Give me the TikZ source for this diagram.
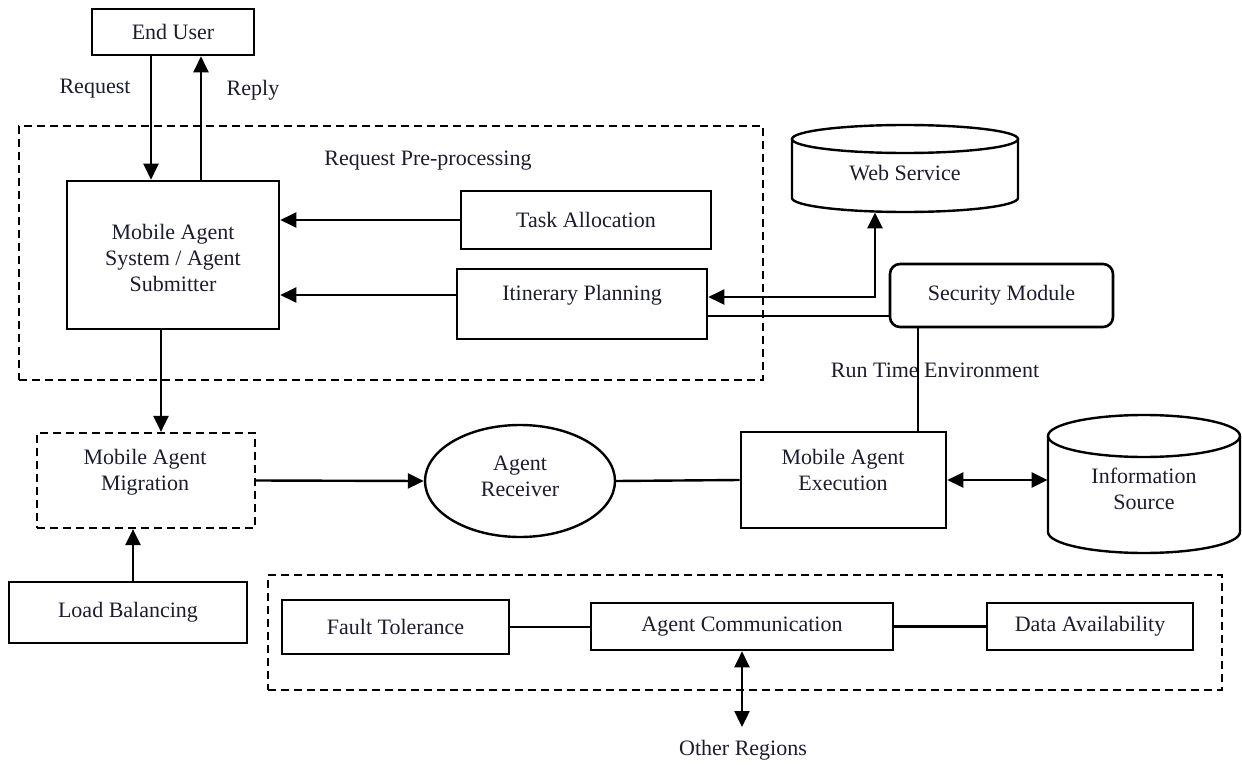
\documentclass[tikz,border=0pt]{standalone}
\usepackage{fontspec}
\setmainfont{Liberation Serif}
\usetikzlibrary{arrows.meta,shapes.geometric}
\definecolor{txt}{RGB}{28,28,48}
\begin{document}
\begin{tikzpicture}[x=0.5pt,y=-0.5pt,
  font=\fontsize{11}{13}\selectfont,
  every node/.style={text=txt},
  box/.style={draw, line width=1.3pt, inner sep=0pt, align=center},
  dbox/.style={draw, line width=1.1pt, dash pattern=on 4pt off 2.5pt, inner sep=0pt},
  lbl/.style={inner sep=0pt, align=center},
  conn/.style={line width=1.2pt},
  arr/.style={conn, -{Triangle[length=8pt,width=7.5pt]}},
  arrb/.style={conn, {Triangle[length=8pt,width=7.5pt]}-{Triangle[length=8pt,width=7.5pt]}},
  cyl/.style={line width=1.2pt}
]
\useasboundingbox (0,0) rectangle (1242,765);

% dashed regions
\node[dbox, minimum width=372pt, minimum height=127pt] (rpp) at (391,253) {};
\node[dbox, minimum width=477pt, minimum height=57.5pt] (oreg) at (745,632.5) {};

% boxes
\node[box, minimum width=81pt, minimum height=23pt] (eu) at (173,32) {End User};
\node[box, minimum width=106pt, minimum height=74pt] (mas) at (173,255) {};
\node[lbl] (mast) at (173,258) {Mobile Agent\\System / Agent\\Submitter};
\node[box, minimum width=125pt, minimum height=29pt] (ta) at (586,220) {Task Allocation};
\node[box, minimum width=125pt, minimum height=35pt] (ip) at (582,304) {};
\node[lbl] (ipt) at (582,295) {Itinerary Planning};
\node[box, rounded corners=5pt, minimum width=111.5pt, minimum height=31.5pt] (sm) at (1001.5,295.5) {Security Module};
\node[box, minimum width=102.5pt, minimum height=48pt] (mae) at (843.5,480) {};
\node[lbl] (maet) at (843,470) {Mobile Agent\\Execution};
\node[draw, ellipse, line width=1.2pt, minimum width=95pt, minimum height=56pt, inner sep=0pt] (ar) at (520,481) {};
\node[lbl] (art) at (520,476) {Agent\\Receiver};
\node[dbox, minimum width=109pt, minimum height=47.5pt] (mam) at (146,480.5) {};
\node[lbl] (mamt) at (145,472) {Mobile Agent\\Migration};
\node[box, minimum width=119pt, minimum height=30.5pt] (lb) at (128,612.5) {Load Balancing};
\node[box, minimum width=113.5pt, minimum height=27pt] (ft) at (395.5,627) {Fault Tolerance};
\node[box, minimum width=151pt, minimum height=23.5pt] (ac) at (742,626.5) {Agent Communication};
\node[box, minimum width=103pt, minimum height=23.5pt] (da) at (1090,626.5) {Data Availability};

% Web Service cylinder
\node[inner sep=0pt, minimum width=113pt, minimum height=43.5pt] (ws) at (905,168.5) {};
\draw[cyl] (905,139) ellipse [x radius=56.5pt, y radius=7pt];
\draw[cyl] (792,139) -- (792,198) arc[start angle=180, end angle=360, x radius=56.5pt, y radius=7pt] -- (1018,139);
\node[lbl] (wst) at (905,173) {Web Service};

% Information Source cylinder
\node[inner sep=0pt, minimum width=96pt, minimum height=69pt] (is) at (1144,484) {};
\draw[cyl] (1144,436) ellipse [x radius=48pt, y radius=10.5pt];
\draw[cyl] (1048,436) -- (1048,532) arc[start angle=180, end angle=360, x radius=48pt, y radius=10.5pt] -- (1240,436);
\node[lbl] (ist) at (1144,489) {Information\\Source};

% labels
\node[lbl] (req) at (95,89) {Request};
\node[lbl] (rep) at (253,90) {Reply};
\node[lbl] (rpt) at (428,161) {Request Pre-processing};
\node[lbl] (rte) at (935,370) {Run Time Environment};
\node[lbl] (oth) at (743,750) {Other Regions};

% connectors
\draw[arr] ([xshift=-11pt]eu.south) -- ([xshift=-11pt]mas.north);
\draw[arr] ([xshift=14pt]mas.north) -- ([xshift=14pt]eu.south);
\draw[arr] (ta.west) -- (ta.west -| mas.east);
\coordinate (ipw) at ([yshift=4.5pt]ip.west);
\draw[arr] (ipw) -- (ipw -| mas.east);
\coordinate (ipe1) at ([yshift=3.5pt]ip.east);
\coordinate (wsb) at ([xshift=-15pt]ws.south);
\draw[arrb] (ipe1) -| (wsb);
\coordinate (ipe2) at ([yshift=-6pt]ip.east);
\draw[conn] (ipe2) -- (ipe2 -| sm.west);
\coordinate (smb) at ([xshift=-41.75pt]sm.south);
\draw[conn] (smb) -- (smb |- mae.north);
\draw[arrb] (mae.east) -- (mae.east -| is.west);
\draw[conn] (ar.east) -- (mae.west);
\coordinate (masb) at ([xshift=-6pt]mas.south);
\draw[arr] (masb) -- (masb |- mam.north);
\draw[arr] (mam.east) -- (ar.west);
\coordinate (lbt) at ([xshift=2.5pt]lb.north);
\draw[arr] (lbt) -- (lbt |- mam.south);
\draw[conn] (ft.east) -- (ft.east -| ac.west);
\draw[conn] (ac.east) -- (da.west);
\coordinate (ot) at (742,727);
\draw[arrb] (ac.south) -- (ot);
\end{tikzpicture}
\end{document}
